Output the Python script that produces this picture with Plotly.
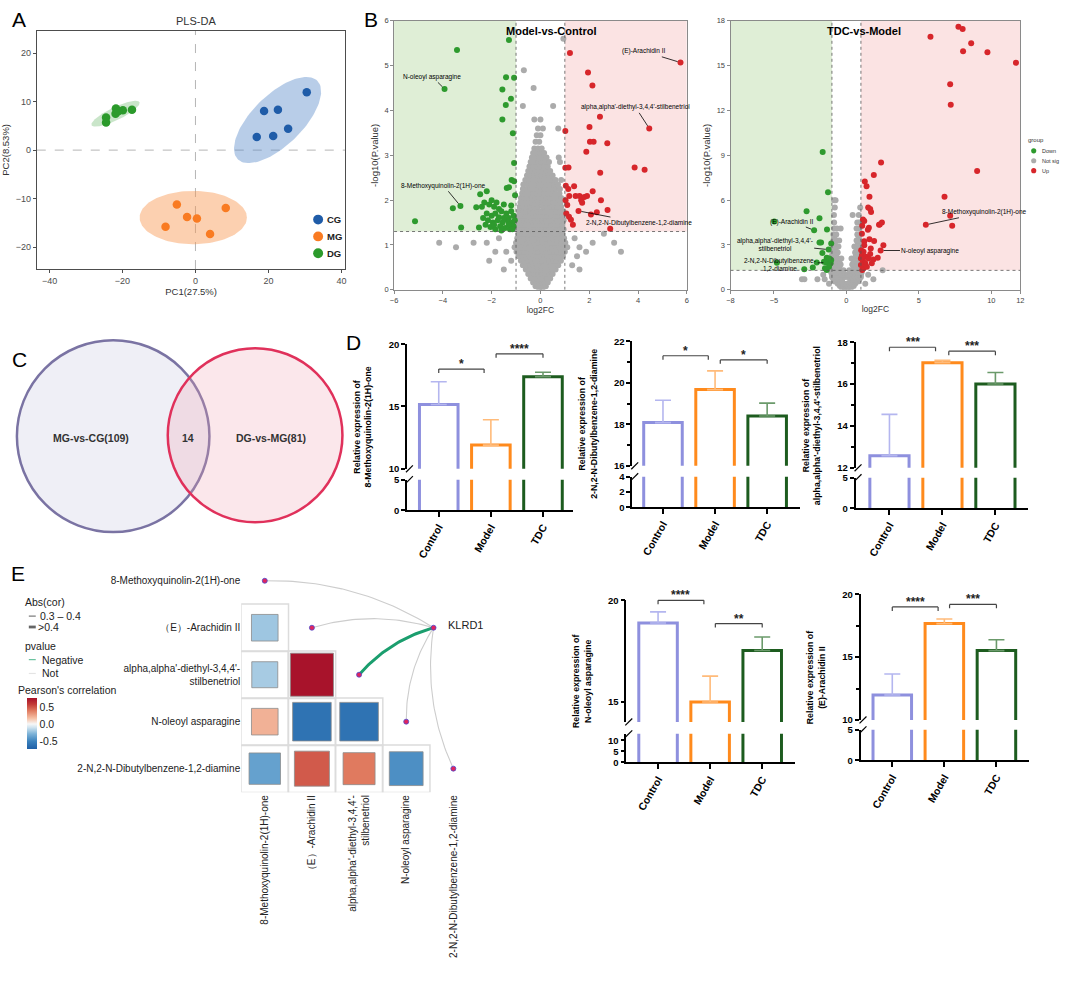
import numpy as np
import plotly.graph_objects as go

W, H = 1065, 986
FONT = "Liberation Sans, Arial, Helvetica, sans-serif"

# ======================= DATA =======================
# ---- Panel A : PLS-DA scores ----
pls_groups = ["CG", "MG", "DG"]
pls_colors = ["#1f5ca8", "#f97b22", "#2b9a2b"]
cg_pc1 = [30.5, 18.8, 22.6, 25.4, 16.8, 21.3]
cg_pc2 = [11.9, 8.05, 8.3, 4.4, 2.7, 2.9]
mg_pc1 = [-5.1, 8.3, -2.3, 0.4, -8.2, 4.0]
mg_pc2 = [-11.2, -11.9, -13.8, -14.1, -15.8, -17.3]
dg_pc1 = [-21.8, -19.9, -17.4, -21.9, -24.5, -24.5, -21.2]
dg_pc2 = [8.6, 8.2, 8.3, 7.5, 6.7, 5.7, 8.0]
ell_cx = [22.5, -0.6, -21.9]
ell_cy = [6.2, -13.9, 7.5]
ell_a = [13.7, 14.7, 7.0]
ell_b = [5.8, 5.5, 1.4]
ell_deg = [32.8, 0.0, 19.3]
ell_fill = ["rgba(85,135,200,0.42)", "rgba(248,150,80,0.45)", "rgba(120,190,120,0.40)"]

# ---- Panel B (left): Model-vs-Control volcano ----
mc_down_x = [-3.42, -1.29, -3.93, -1.41, -1.08, -1.56, -1.21, -1.42, -1.56, -1.13, -1.08, -1.18, -1.08,
             -1.38, -1.29, -5.14, -3.59, -3.28, -3.25, -2.47, -2.20, -2.63, -2.52, -1.04,
             -2.3, -2.1, -2.0, -1.9, -1.8, -1.7, -2.2, -2.0, -1.85, -1.6, -1.5, -1.4, -1.3, -1.2, -1.1,
             -2.15, -1.95, -1.75, -1.55, -1.35, -1.15, -2.05, -1.85, -1.65, -1.45, -1.25, -1.1, -2.35,
             -1.7, -1.5, -1.3, -1.9, -2.4, -1.6, -1.2, -1.05, -1.15, -2.25]
mc_down_y = [5.35, 5.57, 4.48, 4.74, 4.73, 4.47, 4.26, 4.12, 3.80, 3.49, 2.83, 2.45, 2.42,
             2.27, 2.29, 1.53, 1.82, 1.87, 1.39, 2.13, 2.20, 1.84, 1.39, 2.11,
             1.95, 1.9, 2.0, 1.85, 1.95, 1.8, 1.7, 1.65, 1.7, 1.75, 1.9, 1.7, 1.6, 1.75, 1.65,
             1.55, 1.5, 1.55, 1.5, 1.55, 1.5, 1.4, 1.35, 1.42, 1.38, 1.35, 1.42, 1.6,
             1.62, 1.6, 1.45, 1.45, 1.85, 1.32, 1.88, 1.55, 1.35, 1.45]
mc_up_x = [1.21, 5.74, 1.95, 2.13, 2.44, 4.46, 1.02, 2.01, 2.03, 2.18, 2.74, 1.88, 2.45, 3.86, 4.27,
           1.02, 1.15, 1.04, 1.14, 1.38, 1.18, 1.44, 1.60, 1.67, 1.71, 1.80, 1.91, 2.14, 2.48, 2.75,
           1.56, 2.07, 2.31, 2.86, 1.03, 1.06, 1.17, 1.25, 1.33, 1.10]
mc_up_y = [5.28, 5.07, 4.85, 4.56, 3.86, 3.60, 3.54, 3.63, 3.30, 3.30, 3.27, 3.08, 2.61, 2.73, 2.68,
           2.72, 2.73, 2.32, 2.25, 2.31, 2.09, 2.09, 2.09, 2.00, 1.94, 2.07, 2.09, 2.20, 2.00, 1.78,
           1.76, 1.68, 1.73, 1.36, 2.00, 1.70, 1.63, 1.56, 1.45, 1.89]
mc_ns_levels = [0.00, 0.08, 0.16, 0.25, 0.35, 0.45, 0.55, 0.65, 0.75, 0.85, 0.95, 1.05, 1.15, 1.25,
                1.35, 1.45, 1.55, 1.65, 1.75, 1.85, 1.95, 2.05, 2.15, 2.25, 2.35, 2.45, 2.55, 2.65,
                2.75, 2.85, 2.95, 3.05, 3.15, 3.3, 3.45, 3.6, 3.8, 4.1, 4.5, 4.9, 5.6]
mc_ns_x_by_level = [
    [-0.05, 0.08],
    [-0.2, -0.1, 0.0, 0.12, 0.22],
    [-0.3, -0.18, -0.05, 0.06, 0.18, 0.3],
    [-0.4, -0.28, -0.15, 0.0, 0.14, 0.27, 0.4],
    [-0.5, -0.37, -0.24, -0.1, 0.06, 0.2, 0.35, 0.5],
    [-1.5, -0.6, -0.47, -0.33, -0.2, -0.07, 0.06, 0.2, 0.34, 0.48, 0.62, 1.6],
    [-0.72, -0.57, -0.42, -0.28, -0.14, 0.0, 0.14, 0.28, 0.43, 0.58, 0.73, 1.3],
    [-2.1, -1.2, -0.8, -0.66, -0.51, -0.36, -0.21, -0.07, 0.07, 0.21, 0.36, 0.52, 0.67, 0.84],
    [-0.9, -0.76, -0.6, -0.45, -0.3, -0.15, 0.0, 0.15, 0.3, 0.45, 0.6, 0.76, 0.92, 1.5],
    [-1.85, -1.4, -0.98, -0.84, -0.68, -0.52, -0.37, -0.22, -0.08, 0.08, 0.24, 0.4, 0.55, 0.7, 0.86,
     1.0, 1.87, 3.3],
    [-3.46, -1.06, -0.92, -0.77, -0.62, -0.47, -0.32, -0.17, 0.0, 0.17, 0.33, 0.48, 0.63, 0.78, 0.93,
     1.1, 1.6],
    [-4.15, -2.74, -2.2, -1.0, -0.86, -0.7, -0.55, -0.4, -0.25, -0.1, 0.08, 0.25, 0.4, 0.56, 0.71, 0.86,
     1.02, 2.14, 3.02],
    [-1.7, -0.95, -0.8, -0.65, -0.5, -0.35, -0.2, -0.05, 0.06, 0.2, 0.36, 0.52, 0.67, 0.82, 0.97, 1.4],
    [-0.9, -0.75, -0.6, -0.45, -0.3, -0.15, 0.0, 0.15, 0.3, 0.45, 0.6, 0.75, 0.9, 2.6],
    [-0.95, -0.82, -0.67, -0.52, -0.37, -0.22, -0.08, 0.08, 0.23, 0.38, 0.53, 0.68, 0.83, 0.95],
    [-0.9, -0.75, -0.6, -0.45, -0.3, -0.15, 0.0, 0.15, 0.3, 0.45, 0.6, 0.75, 0.9],
    [-0.95, -0.82, -0.67, -0.52, -0.37, -0.22, -0.08, 0.08, 0.23, 0.38, 0.53, 0.68, 0.83, 0.95],
    [-0.9, -0.75, -0.6, -0.45, -0.3, -0.15, 0.0, 0.15, 0.3, 0.45, 0.6, 0.75, 0.9],
    [-0.88, -0.72, -0.57, -0.42, -0.27, -0.12, 0.05, 0.2, 0.35, 0.5, 0.65, 0.8, 0.93],
    [-0.85, -0.7, -0.55, -0.4, -0.25, -0.1, 0.1, 0.25, 0.4, 0.55, 0.7, 0.85],
    [-0.82, -0.67, -0.52, -0.37, -0.22, -0.07, 0.07, 0.22, 0.37, 0.52, 0.67, 0.82],
    [-0.8, -0.65, -0.5, -0.35, -0.2, -0.05, 0.1, 0.25, 0.4, 0.55, 0.7, 0.85],
    [-0.75, -0.6, -0.45, -0.3, -0.15, 0.0, 0.15, 0.3, 0.45, 0.6, 0.78],
    [-0.72, -0.57, -0.42, -0.27, -0.12, 0.03, 0.18, 0.33, 0.48, 0.63, 0.8],
    [-0.7, -0.52, -0.36, -0.2, -0.05, 0.1, 0.25, 0.4, 0.56, 0.72],
    [-0.62, -0.46, -0.3, -0.15, 0.0, 0.15, 0.3, 0.46, 0.62, 0.85],
    [-0.55, -0.4, -0.25, -0.1, 0.05, 0.2, 0.35, 0.5],
    [-0.5, -0.35, -0.2, -0.05, 0.1, 0.25, 0.4],
    [-0.45, -0.3, -0.15, 0.0, 0.15, 0.3],
    [-0.4, -0.25, -0.1, 0.05, 0.2, 0.35, 0.8],
    [-0.35, -0.2, -0.05, 0.1, 0.25, 0.75],
    [-0.3, -0.15, 0.0, 0.15],
    [-0.25, -0.1, 0.05],
    [-0.2, -0.05],
    [-0.15, 0.0],
    [-0.1, 0.1, 0.73],
    [-0.25, 0.0],
    [-0.72, 0.52],
    [-0.28],
    [-0.68],
    [0.94],
]

# ---- Panel B (right): TDC-vs-Model volcano ----
tm_down_x = [-1.64, -1.27, -2.75, -1.86, -4.98, -2.23, -1.34, -1.86, -1.75, -1.05, -1.23, -1.66, -1.36,
             -1.18, -2.05, -1.55, -1.39, -1.09, -1.2, -1.48, -1.36, -2.32, -2.91, -4.8, -1.05]
tm_down_y = [9.23, 6.52, 5.26, 4.79, 4.57, 3.98, 4.04, 3.16, 3.16, 3.09, 2.69, 2.47, 2.14,
             2.10, 1.83, 1.88, 1.83, 1.77, 1.55, 1.44, 1.33, 1.5, 1.37, 1.81, 1.99]
tm_up_x = [7.73, 8.02, 8.61, 5.80, 8.05, 9.73, 11.7, 7.16, 7.2, 9.02, 6.77, 7.16, 7.3, 5.48,
           2.39, 1.89, 1.27, 1.39, 1.59, 1.5, 1.64, 1.7, 1.14, 1.23, 1.09, 1.48, 1.55, 2.25, 2.45, 2.3,
           1.07, 1.59, 1.91, 1.23, 2.55, 2.36, 1.02, 1.18, 1.07, 1.36, 1.68, 1.52, 1.86, 2.16, 1.14,
           1.30, 1.0, 1.18, 1.41, 1.64, 1.75, 1.0, 1.09, 1.23]
tm_up_y = [17.6, 17.45, 16.5, 16.94, 15.97, 15.9, 15.19, 13.76, 12.39, 7.95, 6.23, 4.95, 4.28, 4.35,
           8.52, 7.69, 7.24, 6.93, 6.23, 5.5, 5.41, 5.21, 4.7, 4.6, 4.28, 4.02, 4.15, 4.35, 4.5, 4.37,
           3.75, 3.38, 3.27, 3.25, 2.98, 2.63, 2.65, 2.54, 2.32, 2.21, 2.76, 2.10, 2.03, 2.14, 1.94,
           1.77, 1.66, 1.44, 1.55, 2.39, 1.77, 2.10, 1.33, 2.98]
tm_ns_levels = [0.1, 0.25, 0.4, 0.55, 0.7, 0.85, 1.0, 1.15, 1.3, 1.5, 1.7, 1.9, 2.1, 2.3, 2.5, 2.7, 2.9,
                3.1, 3.3, 3.5, 3.7, 4.1, 4.5, 5.0, 5.5, 6.0]
tm_ns_x_by_level = [
    [-0.3, -0.1, 0.1, 0.3],
    [-0.45, -0.25, -0.05, 0.15, 0.35, 0.5],
    [-1.2, -0.6, -0.4, -0.2, 0.0, 0.2, 0.4, 0.6, 1.3],
    [-0.8, -0.6, -0.45, -0.3, 0.25, 0.45, 0.65, 0.8],
    [-3.07, -2.9, -2.0, -1.5, -0.9, -0.7, -0.5, -0.3, 0.3, 0.5, 0.7, 0.9, 1.86],
    [-1.0, -0.85, -0.65, -0.45, -0.1, 0.1, 0.4, 0.6, 0.8, 1.0],
    [-1.6, -1.0, -0.85, -0.7, -0.5, -0.3, -0.1, 0.1, 0.3, 0.5, 0.7, 0.85, 1.0, 1.5],
    [-1.05, -0.9, -0.75, -0.55, -0.35, 0.35, 0.55, 0.75, 0.9, 1.05],
    [-0.95, -0.8, -0.6, -0.4, -0.2, 0.2, 0.4, 0.6, 0.8, 0.95, 2.5],
    [-1.0, -0.85, -0.7, -0.5, 0.5, 0.7, 0.85, 1.0],
    [-0.95, -0.8, -0.6, -0.4, 0.4, 0.6, 0.8, 0.95],
    [-1.0, -0.85, -0.7, -0.5, 0.5, 0.7, 0.85, 1.0],
    [-0.95, -0.8, -0.6, -0.35, 0.35, 0.6, 0.8, 0.95],
    [-1.0, -0.85, -0.7, 0.65, 0.8, 0.95],
    [-0.95, -0.8, -0.6, 0.6, 0.8, 0.95],
    [-0.9, -0.75, 0.7, 0.85],
    [-0.9, -0.75, -0.55, 0.55, 0.75, 0.9],
    [-0.95, -0.8, 0.8, 0.95],
    [-0.9, -0.7, -0.5, 0.7, 0.9],
    [-0.85, 0.85],
    [-0.9, -0.7, 0.75, 0.9],
    [-0.85, -0.65, -0.4, 0.7, 0.9],
    [-0.85, 0.75, 0.9],
    [-0.86, 0.43, 0.85],
    [-0.8, 0.95],
    [-0.75, -0.85],
]

# ---- Panel C: Venn ----
venn_names = ["MG-vs-CG(109)", "DG-vs-MG(81)"]
venn_overlap = 14

# ---- Panels D/E: bar charts ----
bar_groups = ["Control", "Model", "TDC"]
bar_line_colors = ["#8e90de", "#ff8a1c", "#1d5c1f"]
bar_err_colors = ["#b4b6ef", "#ffbb7a", "#6b9a6b"]
m8_mean = [15.16, 11.90, 17.38];   m8_sd = [1.82, 2.04, 0.37]
dib_mean = [18.08, 19.67, 18.40];  dib_sd = [1.08, 0.90, 0.62]
stil_mean = [12.58, 17.02, 16.00]; stil_sd = [1.97, 0.11, 0.55]
nole_mean = [18.88, 14.98, 17.52]; nole_sd = [0.55, 1.28, 0.67]
arach_mean = [11.99, 17.67, 15.52]; arach_sd = [1.67, 0.37, 0.87]
m8_sig = [(0, 0.87, 18.0, "*"), (1.1, 2.0, 19.23, "****")]
dib_sig = [(0, 0.87, 21.3, "*"), (1.1, 2.0, 21.1, "*")]
stil_sig = [(0, 0.87, 17.76, "***"), (1.12, 2.0, 17.57, "***")]
nole_sig = [(0, 0.88, 20.0, "****"), (1.1, 2.0, 18.85, "**")]
arach_sig = [(0, 0.88, 19.0, "****"), (1.1, 2.0, 19.2, "***")]

# ---- Panel E: correlation ----
metab_names = ["8-Methoxyquinolin-2(1H)-one", "（E）-Arachidin II",
               "alpha,alpha'-diethyl-3,4,4'-<br>stilbenetriol", "N-oleoyl asparagine",
               "2-N,2-N-Dibutylbenzene-1,2-diamine"]
corr_row = [1, 2, 2, 3, 3, 3, 4, 4, 4, 4]
corr_col = [0, 0, 1, 0, 1, 2, 0, 1, 2, 3]
corr_r = [-0.22, -0.20, 0.77, 0.22, -0.62, -0.62, -0.38, 0.50, 0.40, -0.46]
klrd1_pvalue = ["Not", "Not", "Negative", "Not", "Not"]

# ======================= HELPERS =======================
def px(x): return x / W
def py(y): return 1 - y / H
def xdom(l, r): return [l / W, r / W]
def ydom(t, b): return [1 - b / H, 1 - t / H]

fig = go.Figure()
lay = dict(width=W, height=H, margin=dict(l=0, r=0, t=0, b=0), paper_bgcolor="white",
           plot_bgcolor="rgba(0,0,0,0)", font=dict(family=FONT, color="#222"),
           showlegend=False, barmode="overlay")
shapes, anns = [], []

def txt(x, y, text, size=10, color="#222", bold=False, xanchor="center", yanchor="middle",
        angle=0, xref="paper", yref="paper", **kw):
    d = dict(x=x, y=y, xref=xref, yref=yref, text=text, showarrow=False,
             font=dict(size=size, color=color, family=FONT, weight="bold" if bold else "normal"),
             xanchor=xanchor, yanchor=yanchor, textangle=angle)
    d.update(kw)
    anns.append(d)

def pline(x0, y0, x1, y1, color="#222", width=1, dash=None):
    ln = dict(color=color, width=width)
    if dash: ln["dash"] = dash
    shapes.append(dict(type="line", xref="paper", yref="paper", x0=px(x0), y0=py(y0),
                       x1=px(x1), y1=py(y1), line=ln))

def pcircle(cx, cy, r, fill, line_color=None, lw=0):
    shapes.append(dict(type="circle", xref="paper", yref="paper", x0=px(cx - r), x1=px(cx + r),
                       y0=py(cy + r), y1=py(cy - r), fillcolor=fill,
                       line=dict(color=line_color or fill, width=lw)))

# panel letters
for L, x, y in [("A", 15, 14), ("B", 370, 14), ("C", 16, 357), ("D", 352, 340), ("E", 14, 574)]:
    txt(px(x), py(y), L, size=21, color="black")

# ======================= PANEL A =======================
tt = np.linspace(0, 2 * np.pi, 120)
for cx, cy, a, b, dg, fc in zip(ell_cx, ell_cy, ell_a, ell_b, ell_deg, ell_fill):
    th = np.deg2rad(dg)
    ex = cx + a * np.cos(tt) * np.cos(th) - b * np.sin(tt) * np.sin(th)
    ey = cy + a * np.cos(tt) * np.sin(th) + b * np.sin(tt) * np.cos(th)
    fig.add_trace(go.Scatter(x=ex, y=ey, mode="lines", fill="toself", fillcolor=fc,
                             line=dict(width=0), hoverinfo="skip", xaxis="x", yaxis="y"))
for name, col, xs, ys in zip(pls_groups, pls_colors, [cg_pc1, mg_pc1, dg_pc1], [cg_pc2, mg_pc2, dg_pc2]):
    fig.add_trace(go.Scatter(x=xs, y=ys, mode="markers", name=name,
                             marker=dict(size=8.5, color=col, opacity=1), xaxis="x", yaxis="y"))
axA = dict(showline=True, mirror=True, linecolor="#4d4d4d", linewidth=1, ticks="outside", ticklen=3,
           tickcolor="#4d4d4d", showgrid=False, zeroline=False, tickfont=dict(size=9, color="#4d4d4d"))
lay["xaxis"] = dict(axA, domain=xdom(33, 344), range=[-43.5, 41.1], tickvals=[-40, -20, 0, 20, 40],
                    anchor="y", title=dict(text="PC1(27.5%)", font=dict(size=9.5, color="#333"), standoff=2))
lay["yaxis"] = dict(axA, domain=ydom(25, 266), range=[-24.5, 24.6], tickvals=[-20, -10, 0, 10, 20],
                    anchor="x", title=dict(text="PC2(8.53%)", font=dict(size=9.5, color="#333"), standoff=4))
shapes.append(dict(type="line", xref="x", yref="y domain", x0=0, x1=0, y0=0, y1=1,
                   line=dict(color="#b5b5b5", width=1, dash="dash"), layer="below"))
shapes.append(dict(type="line", xref="x domain", yref="y", x0=0, x1=1, y0=0, y1=0,
                   line=dict(color="#b5b5b5", width=1, dash="dash"), layer="below"))
txt(px(193), py(15), "PLS-DA", size=11, color="#333")
for i, (name, col) in enumerate(zip(pls_groups, pls_colors)):
    yy = 216 + i * 17
    pcircle(316.5, yy, 5, col)
    txt(px(323), py(yy), name, size=9.5, bold=True, xanchor="left", color="#222")

# ======================= PANEL B =======================
DOWN_C, UP_C, NS_C = "#2e9a2e", "#d7262b", "#ababab"

def flat(levels, xs_by):
    xs, ys = [], []
    for lv, xl in zip(levels, xs_by):
        xs += xl
        ys += [lv] * len(xl)
    return xs, ys

def volcano(n, dom, xr, yr, xticks, yticks, ns, dn, up, title, title_x):
    xa, ya = f"x{n}", f"y{n}"
    shapes.append(dict(type="rect", xref=xa, yref=ya, x0=xr[0], x1=-1, y0=1.3, y1=yr[1],
                       fillcolor="#dfeed6", line=dict(width=0), layer="below"))
    shapes.append(dict(type="rect", xref=xa, yref=ya, x0=1, x1=xr[1], y0=1.3, y1=yr[1],
                       fillcolor="#fbe3e3", line=dict(width=0), layer="below"))
    fig.add_trace(go.Scatter(x=ns[0], y=ns[1], mode="markers", marker=dict(size=6, color=NS_C, opacity=1),
                             xaxis=xa, yaxis=ya, name="Not sig"))
    fig.add_trace(go.Scatter(x=dn[0], y=dn[1], mode="markers", marker=dict(size=6, color=DOWN_C, opacity=1),
                             xaxis=xa, yaxis=ya, name="Down"))
    fig.add_trace(go.Scatter(x=up[0], y=up[1], mode="markers", marker=dict(size=6, color=UP_C, opacity=1),
                             xaxis=xa, yaxis=ya, name="Up"))
    for x0, x1, y0, y1 in [(-1, -1, yr[0], yr[1]), (1, 1, yr[0], yr[1]), (xr[0], xr[1], 1.3, 1.3)]:
        shapes.append(dict(type="line", xref=xa, yref=ya, x0=x0, x1=x1, y0=y0, y1=y1,
                           line=dict(color="#555", width=0.8, dash="dot")))
    base = dict(showline=True, mirror=True, linecolor="#8a8a8a", linewidth=1, ticks="outside",
                ticklen=3, tickcolor="#8a8a8a", showgrid=False, zeroline=False,
                tickfont=dict(size=7.5, color="#444"))
    lay[f"xaxis{n}"] = dict(base, domain=xdom(*dom[0]), range=xr, tickvals=xticks, anchor=ya,
                            title=dict(text="log2FC", font=dict(size=8.5, color="#333"), standoff=2))
    lay[f"yaxis{n}"] = dict(base, domain=ydom(*dom[1]), range=yr, tickvals=yticks, anchor=xa,
                            title=dict(text="-log10(P.value)", font=dict(size=9.5, color="#333"), standoff=4))
    txt(title_x, yr[1], title, size=11, bold=True, color="black", xref=xa, yref=ya,
        yanchor="top", yshift=-2)

def vlabel(n, x, y, tx, ty, text):
    anns.append(dict(x=x, y=y, ax=tx, ay=ty, xref=f"x{n}", yref=f"y{n}", axref=f"x{n}", ayref=f"y{n}",
                     text=text, showarrow=True, arrowhead=0, arrowwidth=0.8, arrowcolor="black",
                     standoff=3, font=dict(size=6.5, color="black", family=FONT)))

mc_ns = flat(mc_ns_levels, mc_ns_x_by_level)
volcano(2, ((393, 688), (15, 287)), [-6, 6], [0, 6], [-6, -4, -2, 0, 2, 4, 6], [0, 1, 2, 3, 4, 5, 6],
        mc_ns, (mc_down_x, mc_down_y), (mc_up_x, mc_up_y), "Model-vs-Control", 0.45)
vlabel(2, -3.93, 4.48, -4.43, 4.75, "N-oleoyl asparagine")
vlabel(2, 5.74, 5.07, 4.24, 5.32, "(E)-Arachidin II")
vlabel(2, 4.46, 3.60, 3.9, 4.07, "alpha,alpha'-diethyl-3,4,4'-stilbenetriol")
vlabel(2, -3.28, 1.87, -3.96, 2.32, "8-Methoxyquinolin-2(1H)-one")
vlabel(2, 1.56, 1.76, 4.04, 1.5, "2-N,2-N-Dibutylbenzene-1,2-diamine")

tm_ns = flat(tm_ns_levels, tm_ns_x_by_level)
volcano(3, ((732, 1024), (15, 287)), [-8, 12], [0, 18], [-8, -5, 0, 5, 10, 12], [0, 3, 6, 9, 12, 15, 18],
        tm_ns, (tm_down_x, tm_down_y), (tm_up_x, tm_up_y), "TDC-vs-Model", 1.2)
vlabel(3, 5.48, 4.35, 9.55, 5.19, "8-Methoxyquinolin-2(1H)-one")
vlabel(3, 2.36, 2.63, 5.8, 2.63, "N-oleoyl asparagine")
vlabel(3, -2.23, 3.98, -3.75, 4.57, "(E)-Arachidin II")
vlabel(3, -1.23, 2.69, -4.95, 3.05, "alpha,alpha'-diethyl-3,4,4'-<br>stilbenetriol")
vlabel(3, -1.39, 1.83, -4.57, 1.66, "2-N,2-N-Dibutylbenzene-<br>1,2-diamine")

# small "group" legend
txt(px(1030), py(136), "group", size=6, xanchor="left", color="#333")
for i, (lab, col) in enumerate([("Down", DOWN_C), ("Not sig", NS_C), ("Up", UP_C)]):
    yy = 146.5 + i * 10
    pcircle(1037.5, yy, 2.6, col)
    txt(px(1044), py(yy), lab, size=5.5, xanchor="left", color="#333")

# ======================= PANEL C =======================
pcircle(110, 435, 97, "rgba(190,190,220,0.25)", "#7a73a3", 2.5)
pcircle(253, 434, 88, "rgba(240,160,175,0.25)", "#e0315b", 2.5)
txt(px(88), py(437), venn_names[0], size=10.5, bold=True, color="#333")
txt(px(185), py(437), str(venn_overlap), size=10.5, bold=True, color="#333")
txt(px(269), py(437), venn_names[1], size=10.5, bold=True, color="#333")

# ======================= PANELS D / E bars =======================
def bar_chart(nu, nl, l, r, up_tb, low_tb, up_rng, low_rng, up_ticks, low_ticks, up_minor,
              xr, means, sds, sigs, ylabel):
    xu, yu, xl, yl = f"x{nu}", f"y{nu}", f"x{nl}", f"y{nl}"
    for i in range(3):
        fig.add_trace(go.Bar(x=[i], y=[means[i]], width=0.74,
                             marker=dict(color="white", line=dict(color=bar_line_colors[i], width=3)),
                             error_y=dict(type="data", symmetric=False, array=[sds[i]], arrayminus=[0],
                                          color=bar_err_colors[i], thickness=1.6, width=8),
                             xaxis=xu, yaxis=yu))
        fig.add_trace(go.Bar(x=[i], y=[means[i] + 1], base=[-1], width=0.74,
                             marker=dict(color="white", line=dict(color=bar_line_colors[i], width=3)),
                             xaxis=xl, yaxis=yl))
    yb = dict(showline=True, linecolor="black", linewidth=1.5, ticks="outside", ticklen=4, tickwidth=1.5,
              tickcolor="black", showgrid=False, zeroline=False,
              tickfont=dict(size=9.5, color="black", weight="bold"))
    lay[f"xaxis{nu}"] = dict(domain=xdom(l, r), range=xr, anchor=yu, visible=False)
    ya = dict(yb, domain=ydom(*up_tb), range=up_rng, tickvals=up_ticks, anchor=xu)
    if up_minor:
        ya["minor"] = dict(tickvals=up_minor, ticks="outside", ticklen=3, tickwidth=1.5, tickcolor="black")
    lay[f"yaxis{nu}"] = ya
    lay[f"xaxis{nl}"] = dict(domain=xdom(l, r), range=xr, anchor=yl, showline=True, linecolor="black",
                             linewidth=1.5, ticks="outside", ticklen=5, tickwidth=1.5, tickcolor="black",
                             tickvals=[0, 1, 2], ticktext=bar_groups, tickangle=-60, showgrid=False,
                             zeroline=False, tickfont=dict(size=10.5, color="black", weight="bold"))
    lay[f"yaxis{nl}"] = dict(yb, domain=ydom(*low_tb), range=low_rng, tickvals=low_ticks, anchor=xl)
    span = up_rng[1] - up_rng[0]
    drop = 4.0 / (up_tb[1] - up_tb[0])
    for x0, x1, yv, lab in sigs:
        f = (yv - up_rng[0]) / span
        for sx0, sx1, sy0, sy1 in [(x0, x1, f, f), (x0, x0, f, f - drop), (x1, x1, f, f - drop)]:
            shapes.append(dict(type="line", xref=xu, yref=f"{yu} domain", x0=sx0, x1=sx1, y0=sy0, y1=sy1,
                               line=dict(color="#444", width=1.2)))
        txt((x0 + x1) / 2, f, lab, size=12, bold=True, color="#222", xref=xu, yref=f"{yu} domain",
            yanchor="bottom", yshift=-4)
    for yy in (up_tb[1], low_tb[0]):
        pline(l - 1, yy + 3.5, l + 6, yy - 3.5, color="black", width=1.2)
    txt(px(l - 45), py((up_tb[0] + low_tb[1]) / 2), "Relative expression of<br>" + ylabel, size=8.8,
        bold=True, color="black", angle=-90)

bar_chart(4, 5, 406, 573, (342, 468), (479, 510), [10, 20], [0, 5], [10, 15, 20], [0, 5], None,
          [-0.61, 2.57], m8_mean, m8_sd, m8_sig, "8-Methoxyquinolin-2(1H)-one")
bar_chart(6, 7, 633, 802, (339, 465), (476, 507), [16, 22], [0, 4], [16, 18, 20, 22], [0, 2, 4],
          [17, 19, 21], [-0.59, 2.63], dib_mean, dib_sd, dib_sig, "2-N,2-N-Dibutylbenzene-1,2-diamine")
bar_chart(8, 9, 858, 1032, (340, 467), (477, 508), [12, 18], [0, 5], [12, 14, 16, 18], [0, 5],
          [13, 15, 17], [-0.64, 2.62], stil_mean, stil_sd, stil_sig,
          "alpha,alpha'-diethyl-3,4,4'-stilbenetriol")
bar_chart(11, 12, 627, 797, (601, 724), (736, 765), [14, 20], [0, 13], [15, 20], [0, 5, 10], None,
          [-0.61, 2.63], nole_mean, nole_sd, nole_sig, "N-oleoyl asparagine")
bar_chart(13, 14, 863, 1033, (595, 722), (732, 763), [10, 20], [0, 5], [10, 15, 20], [0, 5],
          [12.5, 17.5], [-0.61, 2.63], arach_mean, arach_sd, arach_sig, "(E)-Arachidin II")

# ======================= PANEL E heatmap + network =======================
nE = 10
xa, ya = f"x{nE}", f"y{nE}"
# grid boxes
fig.add_trace(go.Scatter(x=corr_col, y=corr_row, mode="markers", xaxis=xa, yaxis=ya, hoverinfo="skip",
                         marker=dict(symbol="square-open", size=47.5, color="#dcdcdc", opacity=1,
                                     line=dict(width=1.5))))
cscale = [[0.0, "#1f5fa6"], [0.15, "#3b82bd"], [0.3, "#7fb4d8"], [0.42, "#cfe3ef"], [0.49, "#f7f7f7"],
          [0.6, "#f6c1a6"], [0.75, "#e07b60"], [0.88, "#c23a37"], [1.0, "#a6112a"]]
fig.add_trace(go.Scatter(
    x=corr_col, y=corr_row, mode="markers", xaxis=xa, yaxis=ya,
    marker=dict(symbol="square", size=[20 + 30 * abs(v) for v in corr_r], color=corr_r, opacity=1,
                colorscale=cscale, cmin=-0.75, cmax=0.78, line=dict(color="#8c8c8c", width=0.8),
                colorbar=dict(x=px(23), xanchor="left", y=py(726), yanchor="middle", len=52 / H,
                              lenmode="fraction", thickness=10, tickvals=[-0.5, 0, 0.5],
                              ticktext=["-0.5", "0.0", "0.5"], ticks="", outlinewidth=0, xpad=0, ypad=0,
                              tickfont=dict(size=10.5, color="#222")))))
# network links
kx, ky = 3.58, 1.0
tb = np.linspace(0, 1, 40)
for i, pv in enumerate(klrd1_pvalue):
    sx, sy = float(i), float(i)
    vx, vy = kx - sx, ky - sy
    cx, cy = sx + vx / 2 + 0.15 * vy, sy + vy / 2 - 0.15 * vx
    bx = (1 - tb) ** 2 * sx + 2 * (1 - tb) * tb * cx + tb ** 2 * kx
    by = (1 - tb) ** 2 * sy + 2 * (1 - tb) * tb * cy + tb ** 2 * ky
    neg = pv == "Negative"
    fig.add_trace(go.Scatter(x=bx, y=by, mode="lines", xaxis=xa, yaxis=ya, hoverinfo="skip",
                             line=dict(color="#1b9e6e" if neg else "#cdcdcd", width=3 if neg else 1.1)))
fig.add_trace(go.Scatter(x=[0, 1, 2, 3, 4, kx], y=[0, 1, 2, 3, 4, ky], mode="markers", xaxis=xa, yaxis=ya,
                         marker=dict(size=5, color="#e0245e", opacity=1, line=dict(color="#4a4ad0", width=0.8))))
txt(kx, ky, "KLRD1", size=11, color="#222", xref=xa, yref=ya, xanchor="left", xshift=12, yshift=3)
lay[f"xaxis{nE}"] = dict(domain=xdom(239, 476.5), range=[-0.5, 4.5], anchor=ya, tickvals=[0, 1, 2, 3, 4],
                         ticktext=metab_names, tickangle=-90, showline=False, showgrid=False, zeroline=False,
                         ticks="", tickfont=dict(size=10, color="#222"))
lay[f"yaxis{nE}"] = dict(domain=ydom(557.5, 795), range=[4.5, -0.5], anchor=xa, tickvals=[0, 1, 2, 3, 4],
                         ticktext=metab_names, showline=False, showgrid=False, zeroline=False, ticks="",
                         tickfont=dict(size=10, color="#222"))
# E legend (manual)
txt(px(19), py(603), "Abs(cor)", size=10.5, xanchor="left")
pline(25, 617, 32, 617, color="#777", width=1.2)
txt(px(34), py(617), "0.3 – 0.4", size=10.5, xanchor="left")
pline(25, 628, 32, 628, color="#666", width=2.8)
txt(px(32), py(628), ">0.4", size=10.5, xanchor="left")
txt(px(19), py(647), "pvalue", size=10.5, xanchor="left")
pline(25, 661, 32, 661, color="#6cc3a0", width=1.2)
txt(px(36), py(661), "Negative", size=10.5, xanchor="left")
pline(25, 675, 32, 675, color="#e4e4e4", width=1.2)
txt(px(36), py(675), "Not", size=10.5, xanchor="left")
txt(px(12), py(692), "Pearson's correlation", size=10.5, xanchor="left")

lay["shapes"] = shapes
lay["annotations"] = anns
fig.update_layout(**lay)
fig.write_html("out.html", config={"displayModeBar": False},
               post_script="document.body.style.margin='0';document.body.style.overflow='hidden';")
